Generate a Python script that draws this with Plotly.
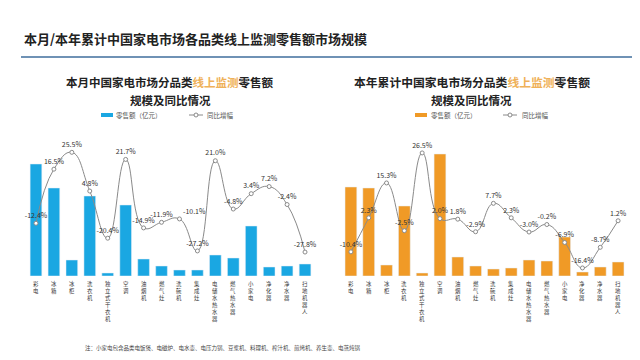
import plotly.graph_objects as go

categories = ["彩电", "冰箱", "冰柜", "洗衣机", "独立式干衣机", "空调", "油烟机", "燃气灶",
              "洗碗机", "集成灶", "电储水热水器", "燃气热水器", "小家电", "净化器", "净水器", "扫地机器人"]

month_sales = [56, 44, 8, 40, 1.5, 35.5, 8.5, 5, 3, 3, 10.5, 9, 25, 4.5, 5, 6]
month_yoy = [-12.4, 16.5, 25.5, 4.8, -20.4, 21.7, -14.9, -11.9, -10.1, -27.2, 21.0, -4.8, 3.4, 7.2, -2.4, -27.8]

ytd_sales = [44.5, 44, 5.5, 35, 1.5, 61, 9.5, 5, 3.5, 4, 8, 7.5, 19.5, 2, 4.5, 7]
ytd_yoy = [-10.4, 2.3, 15.3, -2.5, 26.5, 2.0, 1.8, -2.9, 7.7, 2.3, -3.0, -0.2, -6.9, -16.4, -8.7, 1.2]

FONT = "Noto Sans CJK SC"
BLUE = "#1AA7E2"
ORANGE = "#F09A26"
W, H = 640, 360


def px(x):
    return x / W


def py(y):
    return 1 - y / H


xs = list(range(len(categories)))

month_pos = ["top center"] * len(categories)
month_pos[8] = "top right"

fig = go.Figure()

fig.add_trace(go.Bar(x=xs, y=month_sales, marker_color=BLUE, width=0.65,
                     xaxis="x", yaxis="y", showlegend=False))
fig.add_trace(go.Scatter(x=xs, y=month_yoy, mode="lines+markers+text",
                         line=dict(color="#8a8a8a", width=1, shape="spline", smoothing=1.3),
                         marker=dict(size=4, color="white", line=dict(color="#8a8a8a", width=1)),
                         text=[f"{v:.1f}%" for v in month_yoy], textposition=month_pos,
                         textfont=dict(size=7, color="#333", family=FONT),
                         xaxis="x", yaxis="y2", showlegend=False, cliponaxis=False))

fig.add_trace(go.Bar(x=xs, y=ytd_sales, marker_color=ORANGE, width=0.66,
                     xaxis="x2", yaxis="y3", showlegend=False))
fig.add_trace(go.Scatter(x=xs, y=ytd_yoy, mode="lines+markers+text",
                         line=dict(color="#8a8a8a", width=1, shape="spline", smoothing=1.3),
                         marker=dict(size=4, color="white", line=dict(color="#8a8a8a", width=1)),
                         text=[f"{v:.1f}%" for v in ytd_yoy], textposition="top center",
                         textfont=dict(size=7, color="#333", family=FONT),
                         xaxis="x2", yaxis="y4", showlegend=False, cliponaxis=False))

ydom = [py(268), py(120)]
xaxis_common = dict(tickmode="array", tickvals=xs, showticklabels=False, showline=False,
                    showgrid=False, zeroline=False, ticks="", fixedrange=True)
yaxis_common = dict(visible=False, showgrid=False, zeroline=False, fixedrange=True)

fig.update_layout(
    width=W, height=H, margin=dict(l=0, r=0, t=0, b=0),
    paper_bgcolor="white", plot_bgcolor="white",
    font=dict(family=FONT),
    bargap=0.35,
    xaxis=dict(domain=[px(19), px(306)], range=[-0.5, 15.5], anchor="y", **xaxis_common),
    yaxis=dict(domain=ydom, range=[0, 74], anchor="x", **yaxis_common),
    yaxis2=dict(overlaying="y", range=[-40.6, 38.5], anchor="x", **yaxis_common),
    xaxis2=dict(domain=[px(334), px(619)], range=[-0.5, 15.5], anchor="y3", **xaxis_common),
    yaxis3=dict(domain=ydom, range=[0, 74], anchor="x2", **yaxis_common),
    yaxis4=dict(overlaying="y3", range=[-19.4, 35.8], anchor="x2", **yaxis_common),
)

ann = []

# vertical (stacked character) category labels, placed through each x axis
for xr, yr in [("x", "y"), ("x2", "y3")]:
    for i, cat in enumerate(categories):
        ann.append(dict(text="<br>".join(cat), x=i, y=0, xref=xr, yref=yr,
                        xanchor="center", yanchor="top", yshift=-3, showarrow=False,
                        borderpad=0, font=dict(size=5.4, color="#333", family=FONT)))


def note(text, x, y, size, color="#222", xanchor="left"):
    ann.append(dict(text=text, x=px(x), y=py(y), xref="paper", yref="paper",
                    xanchor=xanchor, yanchor="middle",
                    font=dict(size=size, color=color, family=FONT), showarrow=False))


note("<b>本月/本年累计中国家电市场各品类线上监测零售额市场规模</b>", 14, 30, 13)

hl = "<span style='color:#EFB158'>线上监测</span>"
note(f"<b>本月中国家电市场分品类{hl}零售额</b>", 162, 74, 11.5, xanchor="center")
note("<b>规模及同比情况</b>", 162, 92, 11.5, xanchor="center")
note(f"<b>本年累计中国家电市场分品类{hl}零售额</b>", 464, 74, 11.8, xanchor="center")
note("<b>规模及同比情况</b>", 463, 92, 11.5, xanchor="center")

for tx, ltx in [(106, 197), (421, 512)]:
    note("零售额（亿元）", tx, 107, 6.5, "#555")
    note("同比增幅", ltx, 107, 6.5, "#555")

note("注：小家电包含品类电饭煲、电磁炉、电水壶、电压力锅、豆浆机、料理机、榨汁机、煎烤机、养生壶、电蒸炖锅",
     75, 340, 5.5, "#444")
fig.update_layout(annotations=ann)

shapes = []
shapes.append(dict(type="line", xref="paper", yref="paper", x0=px(13), x1=px(637), y0=py(49), y1=py(49),
                   line=dict(color="#3F6E9C", width=1.5)))
for sx, col, lx in [(93, BLUE, 181), (407, ORANGE, 495)]:
    shapes.append(dict(type="rect", xref="paper", yref="paper", x0=px(sx), x1=px(sx + 12),
                       y0=py(109), y1=py(105), fillcolor=col, line=dict(width=0)))
    shapes.append(dict(type="line", xref="paper", yref="paper", x0=px(lx), x1=px(lx + 14),
                       y0=py(107), y1=py(107), line=dict(color="#8a8a8a", width=1)))
    shapes.append(dict(type="circle", xref="paper", yref="paper", x0=px(lx + 5), x1=px(lx + 9),
                       y0=py(109), y1=py(105), fillcolor="white", line=dict(color="#8a8a8a", width=1)))
fig.update_layout(shapes=shapes)

fig.write_html("out.html")
